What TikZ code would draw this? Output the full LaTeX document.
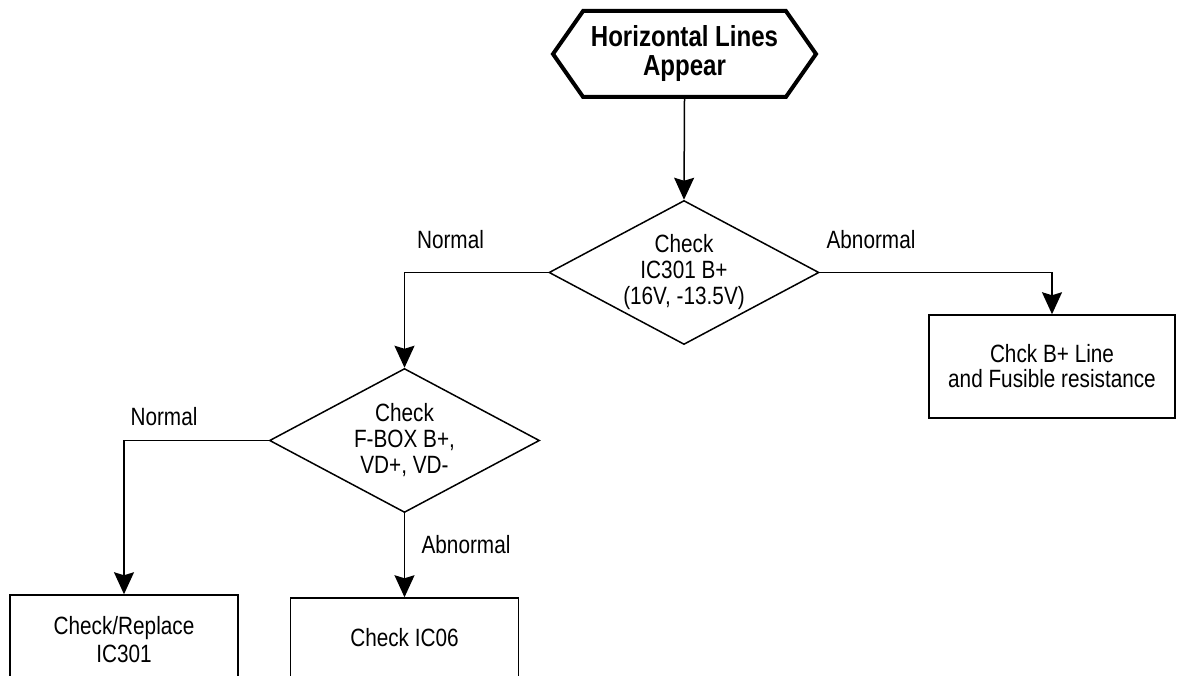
\documentclass[tikz,border=0pt]{standalone}
\usepackage{fontspec}
\setmainfont{Liberation Sans}[FakeStretch=0.83]
\usetikzlibrary{arrows.meta, shapes.geometric, shapes.symbols}

\begin{document}
\begin{tikzpicture}[%
        > = {Stealth[length = 22pt, width = 20pt, inset = 3pt]},
        x = 1pt, y = -1pt,
        line width = 1.5pt,
        every node/.style = {font = \fontsize{25}{26}\selectfont},
        start/.style = {signal, signal to = west and east, signal pointer angle = 110,
            draw, line width = 4pt, inner sep = 0pt,
            minimum width = 263pt, minimum height = 86pt, align = center,
            font = \bfseries\fontsize{29}{29}\selectfont},
        decision/.style = {diamond, draw, aspect = 1.875, inner sep = 0pt,
            minimum width = 270pt, minimum height = 144pt, align = center},
        action/.style = {rectangle, draw, inner sep = 0pt,
            minimum width = 228pt, align = center},
        answer/.style = {anchor = base}
    ]

        % Page size, the bottom boxes run off the page.
        \useasboundingbox (0, 0) rectangle (1177, 676);
        \clip (0, 0) rectangle (1177, 676);

        % Steps.
        \node[start] (start) at (684.5, 54) {Horizontal Lines\\Appear};
        \node[decision] (chkb) at (684, 272.5) {Check\\IC301 B+\\(16V, -13.5V)};
        \node[action, minimum width = 246pt, minimum height = 103pt,
            font = \fontsize{25}{25}\selectfont] (chkline) at (1052, 366.5)
            {Chck B+ Line\\and Fusible resistance};
        \node[decision] (chkfbox) at (404.5, 440.5) {Check\\F-BOX B+,\\VD+, VD-};
        \node[action, minimum height = 90pt,
            font = \fontsize{25}{28}\selectfont] (replace) at (124, 640)
            {Check/Replace\\IC301};
        \node[action, minimum height = 80pt] (ic06) at (404.5, 638) {Check IC06};

        % Connections.
        \draw[->] (start.south) to (chkb.north);
        \draw[->] (chkb.west) -| (chkfbox.north);
        \draw[->] (chkb.east) -| (chkline.north);
        \draw[->] (chkfbox.west) -| (replace.north);
        \draw[->] (chkfbox.south) to (ic06.north);

        % Answers.
        \node[answer] (nrma) at (450.5, 249) {Normal};
        \node[answer] (abna) at (871, 249) {Abnormal};
        \node[answer] (nrmb) at (164, 425) {Normal};
        \node[answer] (abnb) at (466, 553) {Abnormal};
    \end{tikzpicture}
\end{document}
